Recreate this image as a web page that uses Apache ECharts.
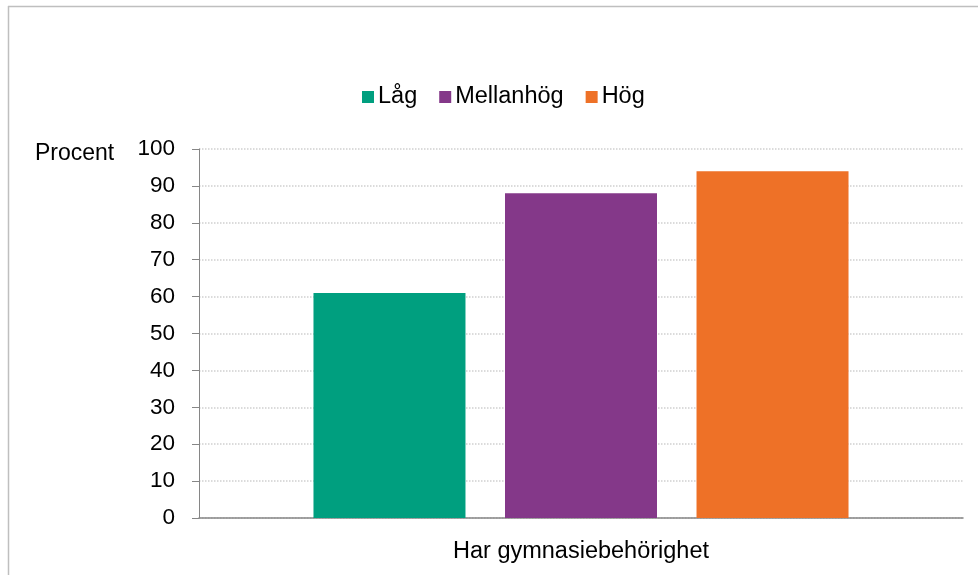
<!DOCTYPE html>
<html>
<head>
<meta charset="utf-8">
<script src="https://cdn.jsdelivr.net/npm/echarts@6/dist/echarts.min.js"></script>
<style>
html,body{margin:0;padding:0;background:#fff;}
#chart{width:978px;height:575px;}
</style>
</head>
<body>
<div id="chart"></div>
<script>
const categories = ['Har gymnasiebehörighet'];
const seriesNames = ['Låg', 'Mellanhög', 'Hög'];
const lagValues = [61];
const mellanhogValues = [88];
const hogValues = [94];
const yTicks = { min: 0, max: 100, interval: 10 };
const colors = ['#009F7F', '#843889', '#EE7127'];

const FONT = 'Liberation Sans';
const chart = echarts.init(document.getElementById('chart'), null, { renderer: 'canvas' });
const valueLists = [lagValues, mellanhogValues, hogValues];

chart.setOption({
  animation: false,
  backgroundColor: '#fff',
  textStyle: { fontFamily: FONT },
  legend: {
    left: 357,
    top: 80,
    itemWidth: 12,
    itemHeight: 12,
    itemGap: 22,
    icon: 'rect',
    textStyle: { fontFamily: FONT, fontSize: 23.5, color: '#000', padding: [0, 0, 0, -1] },
    data: seriesNames
  },
  grid: { left: 199, right: 15, top: 149, bottom: 57 },
  xAxis: {
    type: 'category',
    data: categories,
    axisLine: { show: true, lineStyle: { color: '#868686', width: 1.5 } },
    axisTick: { show: false },
    axisLabel: { fontFamily: FONT, fontSize: 23.5, color: '#000', margin: 22 }
  },
  yAxis: {
    type: 'value',
    min: yTicks.min,
    max: yTicks.max,
    interval: yTicks.interval,
    axisLine: { show: true, lineStyle: { color: '#868686', width: 1 } },
    axisTick: { show: true, length: 7, lineStyle: { color: '#868686' } },
    axisLabel: { fontFamily: FONT, fontSize: 22.5, color: '#000', margin: 24 },
    splitLine: { show: true, lineStyle: { color: '#d0d0d0', type: 'dotted', width: 1.5 } }
  },
  series: seriesNames.map((name, i) => ({
    name: name,
    type: 'bar',
    data: valueLists[i],
    barWidth: 152,
    barGap: '26%',
    itemStyle: { color: colors[i] }
  })),
  graphic: [
    { type: 'line', shape: { x1: 8, y1: 6.5, x2: 978, y2: 6.5 }, style: { stroke: '#bfbfbf', lineWidth: 1.5 } },
    { type: 'line', shape: { x1: 8.5, y1: 6, x2: 8.5, y2: 575 }, style: { stroke: '#bfbfbf', lineWidth: 1.5 } },
    { type: 'text', left: 35, top: 142, style: { text: 'Procent', fontFamily: FONT, fontSize: 23, fill: '#000' } }
  ]
});
</script>
</body>
</html>
